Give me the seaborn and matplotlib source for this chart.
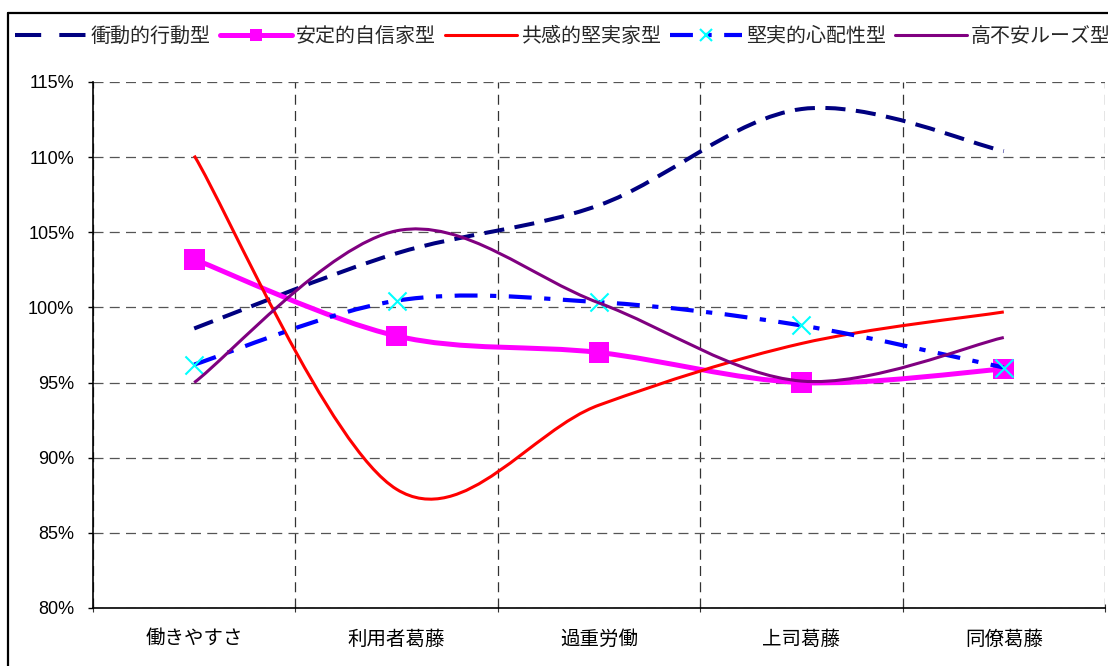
import numpy as np
import matplotlib
matplotlib.use("Agg")
import matplotlib.pyplot as plt
import seaborn as sns
from matplotlib.path import Path
from matplotlib.patches import PathPatch
from matplotlib.lines import Line2D
from matplotlib.ticker import FuncFormatter, FixedLocator

# values (percent)
categories = ["働きやすさ", "利用者葛藤", "過重労働", "上司葛藤", "同僚葛藤"]
impulsive = [98.6, 103.6, 106.8, 113.2, 110.4]
stable = [103.2, 98.1, 97.0, 95.0, 95.9]
empathic = [110.1, 87.9, 93.5, 97.6, 99.7]
worried = [96.2, 100.45, 100.35, 98.8, 96.0]
anxious = [95.0, 105.1, 100.3, 95.1, 98.0]
series_names = ["衝動的行動型", "安定的自信家型", "共感的堅実家型", "堅実的心配性型", "高不安ルーズ型"]
y_ticks = [80, 85, 90, 95, 100, 105, 110, 115]


def smooth_path(xs, ys):
    # Excel-like smoothed line: cubic Bezier segments through every point
    pts = np.column_stack([xs, ys]).astype(float)
    n = len(pts)
    verts, codes = [pts[0]], [Path.MOVETO]
    for i in range(n - 1):
        p0 = pts[max(i - 1, 0)]
        p1, p2 = pts[i], pts[i + 1]
        p3 = pts[min(i + 2, n - 1)]
        verts += [p1 + (p2 - p0) / 6, p2 - (p3 - p1) / 6, p2]
        codes += [Path.CURVE4] * 3
    return Path(verts, codes)


sns.set_style("white")
plt.rcParams["font.family"] = ["Liberation Sans", "Noto Sans CJK JP", "DejaVu Sans"]

fig = plt.figure(figsize=(11.08, 6.66), dpi=100)
ax = fig.add_axes([93 / 1108, 1 - 608 / 666, (1105 - 93) / 1108, (608 - 82) / 666])

x = np.arange(len(categories))
styles = [
    dict(color="#000080", lw=2.9, ls=(0, (5, 2.6)), marker=None),
    dict(color="#FF00FF", lw=3.6, ls="-", marker="s"),
    dict(color="#FF0000", lw=2.2, ls="-", marker=None),
    dict(color="#0000FF", lw=3.0, ls=(0, (5.5, 3, 1.5, 3)), marker="x"),
    dict(color="#800080", lw=2.2, ls="-", marker=None),
]
all_series = [impulsive, stable, empathic, worried, anxious]

handles = []
for k, (vals, st) in enumerate(zip(all_series, styles)):
    patch = PathPatch(smooth_path(x, vals), fill=False, edgecolor=st["color"],
                      lw=st["lw"], linestyle=st["ls"], capstyle="butt",
                      joinstyle="round", zorder=3 + k)
    ax.add_patch(patch)
    if st["marker"] == "s":
        sns.scatterplot(x=x, y=vals, marker="s", s=220, color="#FF00FF",
                        edgecolor="none", linewidth=0, ax=ax, zorder=3 + k)
        handles.append(Line2D([], [], color=st["color"], lw=st["lw"],
                              marker="s", markersize=8, markeredgewidth=0))
    elif st["marker"] == "x":
        sns.scatterplot(x=x, y=vals, marker="x", s=170, color="#00FFFF",
                        linewidth=1.5, ax=ax, zorder=3 + k)
        handles.append(Line2D([], [], color=st["color"], lw=st["lw"],
                              ls=st["ls"], marker="x", markersize=8,
                              markeredgecolor="#00FFFF", markeredgewidth=1.5))
    elif k == 0:
        # legend sample shows two long dashes
        handles.append(Line2D([], [], color=st["color"], lw=st["lw"], ls=(0, (6.5, 4.5))))
    else:
        handles.append(Line2D([], [], color=st["color"], lw=st["lw"], ls=st["ls"]))

ax.set_xlim(-0.5, len(categories) - 0.5)
ax.set_ylim(80, 115)
ax.set_xticks(x)
ax.set_xticklabels(categories, fontsize=14)
ax.xaxis.set_minor_locator(FixedLocator(np.arange(-0.5, len(categories), 1.0)))
ax.set_yticks(y_ticks)
ax.yaxis.set_major_formatter(FuncFormatter(lambda v, p: f"{v:.0f}%"))
ax.tick_params(axis="y", labelsize=13, length=3.5, width=1, direction="out",
               left=True, pad=10, colors="black")
ax.tick_params(axis="x", which="major", length=0, pad=16, colors="black")
ax.tick_params(axis="x", which="minor", length=6, width=0.8, direction="inout",
               bottom=True, color="#333333")

ax.grid(False)
ax.yaxis.grid(True, color="#555555", lw=0.9, ls=(0, (8, 5)))
ax.xaxis.grid(True, which="minor", color="#333333", lw=0.9, ls=(0, (8, 5)))
ax.xaxis.grid(False, which="major")
ax.set_axisbelow(True)

for side in ["top", "right"]:
    ax.spines[side].set_visible(False)
for side in ["left", "bottom"]:
    ax.spines[side].set_color("black")
    ax.spines[side].set_linewidth(1.2)

# outer chart frame (cut off at right and bottom like the reference)
fig.add_artist(Line2D([8 / 1108, 8 / 1108], [-0.05, 1 - 13 / 666], color="black", lw=1.6,
                      transform=fig.transFigure))
fig.add_artist(Line2D([8 / 1108, 1.05], [1 - 13 / 666, 1 - 13 / 666], color="black", lw=1.6,
                      transform=fig.transFigure))

fig.legend(handles, series_names, loc="upper left", ncol=5,
           bbox_to_anchor=(15 / 1108, 1 - 27 / 666), frameon=False,
           fontsize=14.4, handlelength=3.6, handletextpad=0.2,
           columnspacing=0.45, borderaxespad=0, borderpad=0)

fig.savefig("out.png", dpi=100)
